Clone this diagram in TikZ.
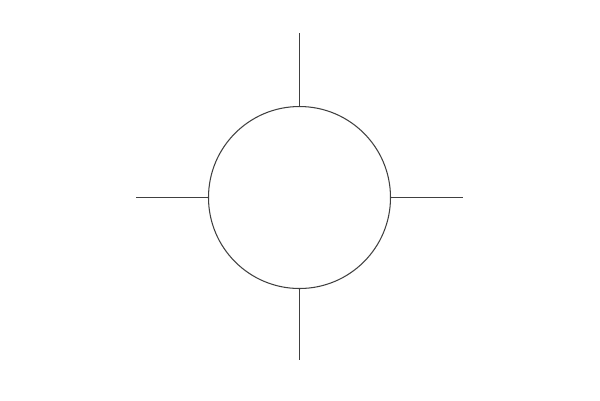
\documentclass[tikz,border=0pt]{standalone}
\usepackage{tikz}

\begin{document}
\begin{tikzpicture}[line width=.3pt, draw=black!75]

\useasboundingbox (0,0) rectangle (6,4);

\node[circle, draw, minimum size=1.82cm, inner sep=0pt] (c) at (2.995,2.025) {};

\coordinate (n) at (2.995,3.67);
\coordinate (s) at (2.995,.40);
\coordinate (w) at (1.36,2.025);
\coordinate (e) at (4.63,2.025);

\draw (c.north)--(n);
\draw (c.south)--(s);
\draw (c.west)--(w);
\draw (c.east)--(e);

\end{tikzpicture}
\end{document}
